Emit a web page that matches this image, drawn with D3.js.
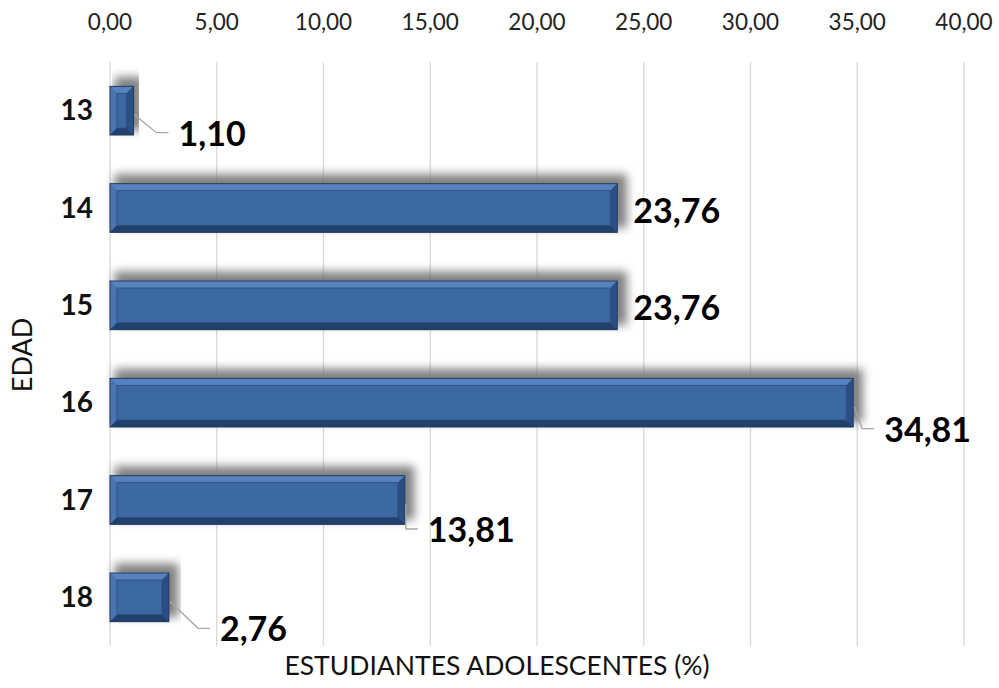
<!DOCTYPE html>
<html><head><meta charset="utf-8">
<script src="https://cdn.jsdelivr.net/npm/d3@7"></script>
<style>body{margin:0;background:#fff}svg{display:block;font-family:Lato,"Open Sans",sans-serif}</style>
</head><body>
<svg id="c" width="999" height="688"></svg>
<script>
const categories = ["13","14","15","16","17","18"];
const values = [1.10, 23.76, 23.76, 34.81, 13.81, 2.76];
const valueLabels = ["1,10","23,76","23,76","34,81","13,81","2,76"];
const tickValues = [0,5,10,15,20,25,30,35,40];
const tickLabels = ["0,00","5,00","10,00","15,00","20,00","25,00","30,00","35,00","40,00"];
const xTitle = "ESTUDIANTES ADOLESCENTES (%)";
const yTitle = "EDAD";
// label layout: [labelDx, labelDy, leader?]
const labelLayout = [[45,23,true],[16,3,false],[16,3,false],[31,27,true],[23,30,true],[51,32,true]];

const svg = d3.select("#c");
const x = d3.scaleLinear().domain([0,40]).range([110,964]);
const y = d3.scaleBand().domain(categories).range([62,646]).paddingInner(0.5).paddingOuter(0.25);

const defs = svg.append("defs");
const f = defs.append("filter").attr("id","sh").attr("x","-20%").attr("y","-80%").attr("width","140%").attr("height","260%");
f.append("feMorphology").attr("in","SourceAlpha").attr("operator","dilate").attr("radius",2).attr("result","d");
f.append("feGaussianBlur").attr("in","d").attr("stdDeviation",5).attr("result","b");
f.append("feOffset").attr("in","b").attr("dx",7).attr("dy",-7).attr("result","o");
f.append("feFlood").attr("flood-color","#6a6a6a").attr("result","fc");
f.append("feComposite").attr("in","fc").attr("in2","o").attr("operator","in").attr("result","o1");
f.append("feComponentTransfer").attr("in","o1").attr("result","o2").append("feFuncA").attr("type","linear").attr("slope",0.85);
const m = f.append("feMerge");
m.append("feMergeNode").attr("in","o2");
m.append("feMergeNode").attr("in","SourceGraphic");

// gridlines
svg.append("g").selectAll("line").data(tickValues).join("line")
  .attr("x1",d=>x(d)).attr("x2",d=>x(d)).attr("y1",62).attr("y2",646)
  .attr("stroke","#d9d9d9").attr("stroke-width",1.3);

// top tick labels
svg.append("g").selectAll("text").data(tickValues).join("text")
  .attr("x",d=>x(d)).attr("y",30).attr("text-anchor","middle")
  .attr("font-size",22.5).attr("fill","#222").text((d,i)=>tickLabels[i]);

// bars
const bw = 7;
const bars = svg.append("g").selectAll("g").data(values).join("g")
  .attr("filter","url(#sh)");
bars.each(function(v,i){
  const g = d3.select(this);
  const x0 = x(0), x1 = x(v), y0 = y(categories[i]), y1 = y0 + y.bandwidth();
  const b = Math.min(bw, (x1-x0)/2.6);
  g.append("rect").attr("x",x0).attr("y",y0).attr("width",x1-x0).attr("height",y1-y0).attr("fill","#3c679f");
  const poly = (pts,fill)=>g.append("polygon").attr("points",pts.map(p=>p.join(",")).join(" ")).attr("fill",fill);
  poly([[x0,y0],[x1,y0],[x1-b,y0+b],[x0+b,y0+b]],"#5683bd");
  poly([[x0,y0],[x0+b,y0+b],[x0+b,y1-b],[x0,y1]],"#4a76b0");
  poly([[x0,y1],[x0+b,y1-b],[x1-b,y1-b],[x1,y1]],"#22416c");
  poly([[x1,y0],[x1,y1],[x1-b,y1-b],[x1-b,y0+b]],"#2c5085");
  g.append("rect").attr("x",x0+b).attr("y",y0+b).attr("width",Math.max(0,x1-x0-2*b)).attr("height",y1-y0-2*b)
    .attr("fill","#3d69a3").attr("stroke","#2b4d7e").attr("stroke-width",0.8);
  g.append("rect").attr("x",x0).attr("y",y0).attr("width",x1-x0).attr("height",y1-y0)
    .attr("fill","none").attr("stroke","#1e3a60").attr("stroke-width",1);
});

// leader lines & value labels
values.forEach((v,i)=>{
  const [dx,dy,lead] = labelLayout[i];
  const xe = x(v), yc = y(categories[i]) + y.bandwidth()/2;
  if(lead){
    svg.append("polyline")
      .attr("points",`${xe+1},${yc+4} ${xe+dx-22},${yc+dy-1} ${xe+dx-10},${yc+dy-1}`)
      .attr("fill","none").attr("stroke","#a6a6a6").attr("stroke-width",1.3);
  }
  svg.append("text").attr("x",xe+dx).attr("y",yc+dy).attr("dy","0.35em")
    .attr("font-size",34).attr("font-weight","bold").attr("fill","#000").text(valueLabels[i]);
});

// y category labels
svg.append("g").selectAll("text").data(categories).join("text")
  .attr("x",93).attr("y",d=>y(d)+y.bandwidth()/2).attr("dy","0.35em").attr("text-anchor","end")
  .attr("font-size",28).attr("font-weight","bold").attr("fill","#111").text(d=>d);

// titles
svg.append("text").attr("x",497).attr("y",675).attr("text-anchor","middle")
  .attr("font-size",26.5).attr("fill","#111").text(xTitle);
svg.append("text").attr("transform","translate(32,355) rotate(-90)").attr("text-anchor","middle")
  .attr("font-size",27).attr("fill","#111").text(yTitle);
</script>
</body></html>
